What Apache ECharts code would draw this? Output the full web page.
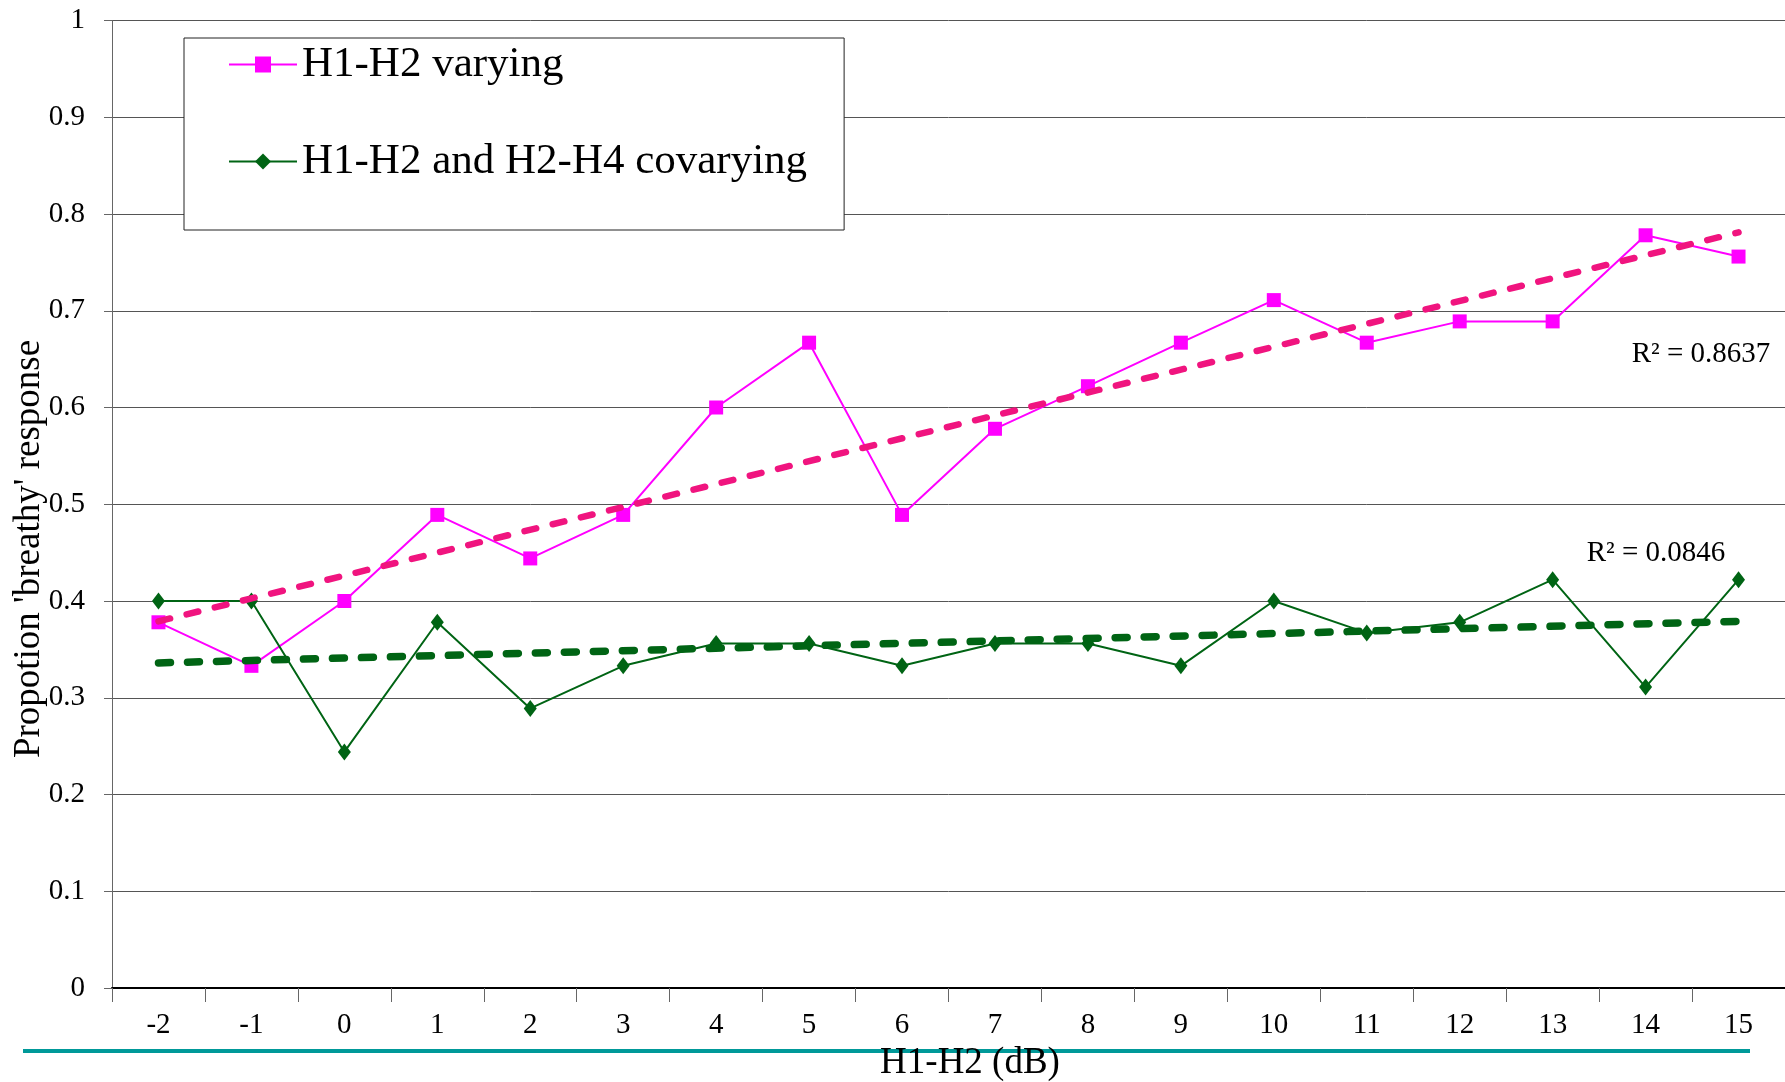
<!DOCTYPE html>
<html><head><meta charset="utf-8">
<script src="https://cdn.jsdelivr.net/npm/echarts@6/dist/echarts.min.js"></script>
<style>html,body{margin:0;padding:0;background:#fff}#c{width:1785px;height:1082px}</style>
</head><body><div id="c"></div>
<script>
const categories = ['-2','-1','0','1','2','3','4','5','6','7','8','9','10','11','12','13','14','15'];
const varying = [0.378,0.333,0.400,0.489,0.444,0.489,0.600,0.667,0.489,0.578,0.622,0.667,0.711,0.667,0.689,0.689,0.778,0.756];
const covarying = [0.400,0.400,0.244,0.378,0.289,0.333,0.356,0.356,0.333,0.356,0.356,0.333,0.400,0.367,0.378,0.422,0.311,0.422];
// linear trendline values read at the first and last category
const trendVarying = [0.379, 0.781];
const trendCovarying = [0.336, 0.379];
const seriesNames = ['H1-H2 varying', 'H1-H2 and H2-H4 covarying'];
const r2Labels = ['R\u00b2 = 0.8637', 'R\u00b2 = 0.0846'];
const xTitle = 'H1-H2 (dB)';
const yTitle = "Propotion 'breathy' response";

const FONT = "'Liberation Serif','Times New Roman',serif";
const last = categories.length - 1;
const chart = echarts.init(document.getElementById('c'), null, {renderer: 'canvas'});
chart.setOption({
  animation: false,
  backgroundColor: '#fff',
  grid: {left: 112, top: 20.5, right: -1, bottom: 94, containLabel: false},
  xAxis: {
    type: 'category', data: categories, boundaryGap: true,
    axisLine: {show: true, onZero: false, lineStyle: {color: '#000', width: 2}},
    axisTick: {show: true, length: 14, lineStyle: {color: '#666', width: 1}},
    axisLabel: {margin: 23, fontFamily: FONT, fontSize: 29, color: '#000'},
    splitLine: {show: false}
  },
  yAxis: {
    type: 'value', min: 0, max: 1, interval: 0.1,
    axisLine: {show: true, lineStyle: {color: '#666', width: 1}},
    axisTick: {show: true, length: 8, lineStyle: {color: '#666'}},
    axisLabel: {margin: 27, fontFamily: FONT, fontSize: 29, color: '#000'},
    splitLine: {show: true, lineStyle: {color: '#555', width: 1}}
  },
  legend: {
    data: seriesNames, orient: 'vertical', left: 184, top: 38,
    padding: [5, 37, 47, 44], itemGap: 54, itemWidth: 68, itemHeight: 20,
    backgroundColor: '#fff', borderColor: '#222', borderWidth: 1,
    textStyle: {fontFamily: FONT, fontSize: 43, lineHeight: 43, color: '#000'}
  },
  series: [
    {name: seriesNames[0], type: 'line', data: varying, symbol: 'rect', symbolSize: 14,
     itemStyle: {color: '#FF00FF'}, lineStyle: {color: '#FF00FF', width: 2}, z: 3},
    {name: seriesNames[1], type: 'line', data: covarying, symbol: 'diamond', symbolSize: [13, 17],
     itemStyle: {color: '#006414'}, lineStyle: {color: '#006414', width: 2}, z: 3},
    {name: 'trend1', type: 'line', showSymbol: false, symbol: 'none',
     data: [[categories[0], trendVarying[0]], [categories[last], trendVarying[1]]],
     lineStyle: {color: '#F0147F', width: 6.5, type: [12, 17], cap: 'round'}, z: 4},
    {name: 'trend2', type: 'line', showSymbol: false, symbol: 'none',
     data: [[categories[0], trendCovarying[0]], [categories[last], trendCovarying[1]]],
     lineStyle: {color: '#006414', width: 7.5, type: [12, 17], cap: 'round'}, z: 4}
  ],
  graphic: [
    {type: 'line', z: 1, shape: {x1: 23, y1: 1051, x2: 1750, y2: 1051}, style: {stroke: '#009999', lineWidth: 4}},
    {type: 'text', z: 10, x: 970, y: 1063, style: {text: xTitle, font: '37px ' + FONT, fill: '#000', align: 'center', verticalAlign: 'middle'}},
    {type: 'text', z: 10, x: 29, y: 549, rotation: Math.PI / 2, style: {text: yTitle, font: '37px ' + FONT, fill: '#000', align: 'center', verticalAlign: 'middle'}},
    {type: 'text', z: 10, x: 1701, y: 354, style: {text: r2Labels[0], font: '29px ' + FONT, fill: '#000', align: 'center', verticalAlign: 'middle'}},
    {type: 'text', z: 10, x: 1656, y: 553, style: {text: r2Labels[1], font: '29px ' + FONT, fill: '#000', align: 'center', verticalAlign: 'middle'}}
  ]
});
</script></body></html>
